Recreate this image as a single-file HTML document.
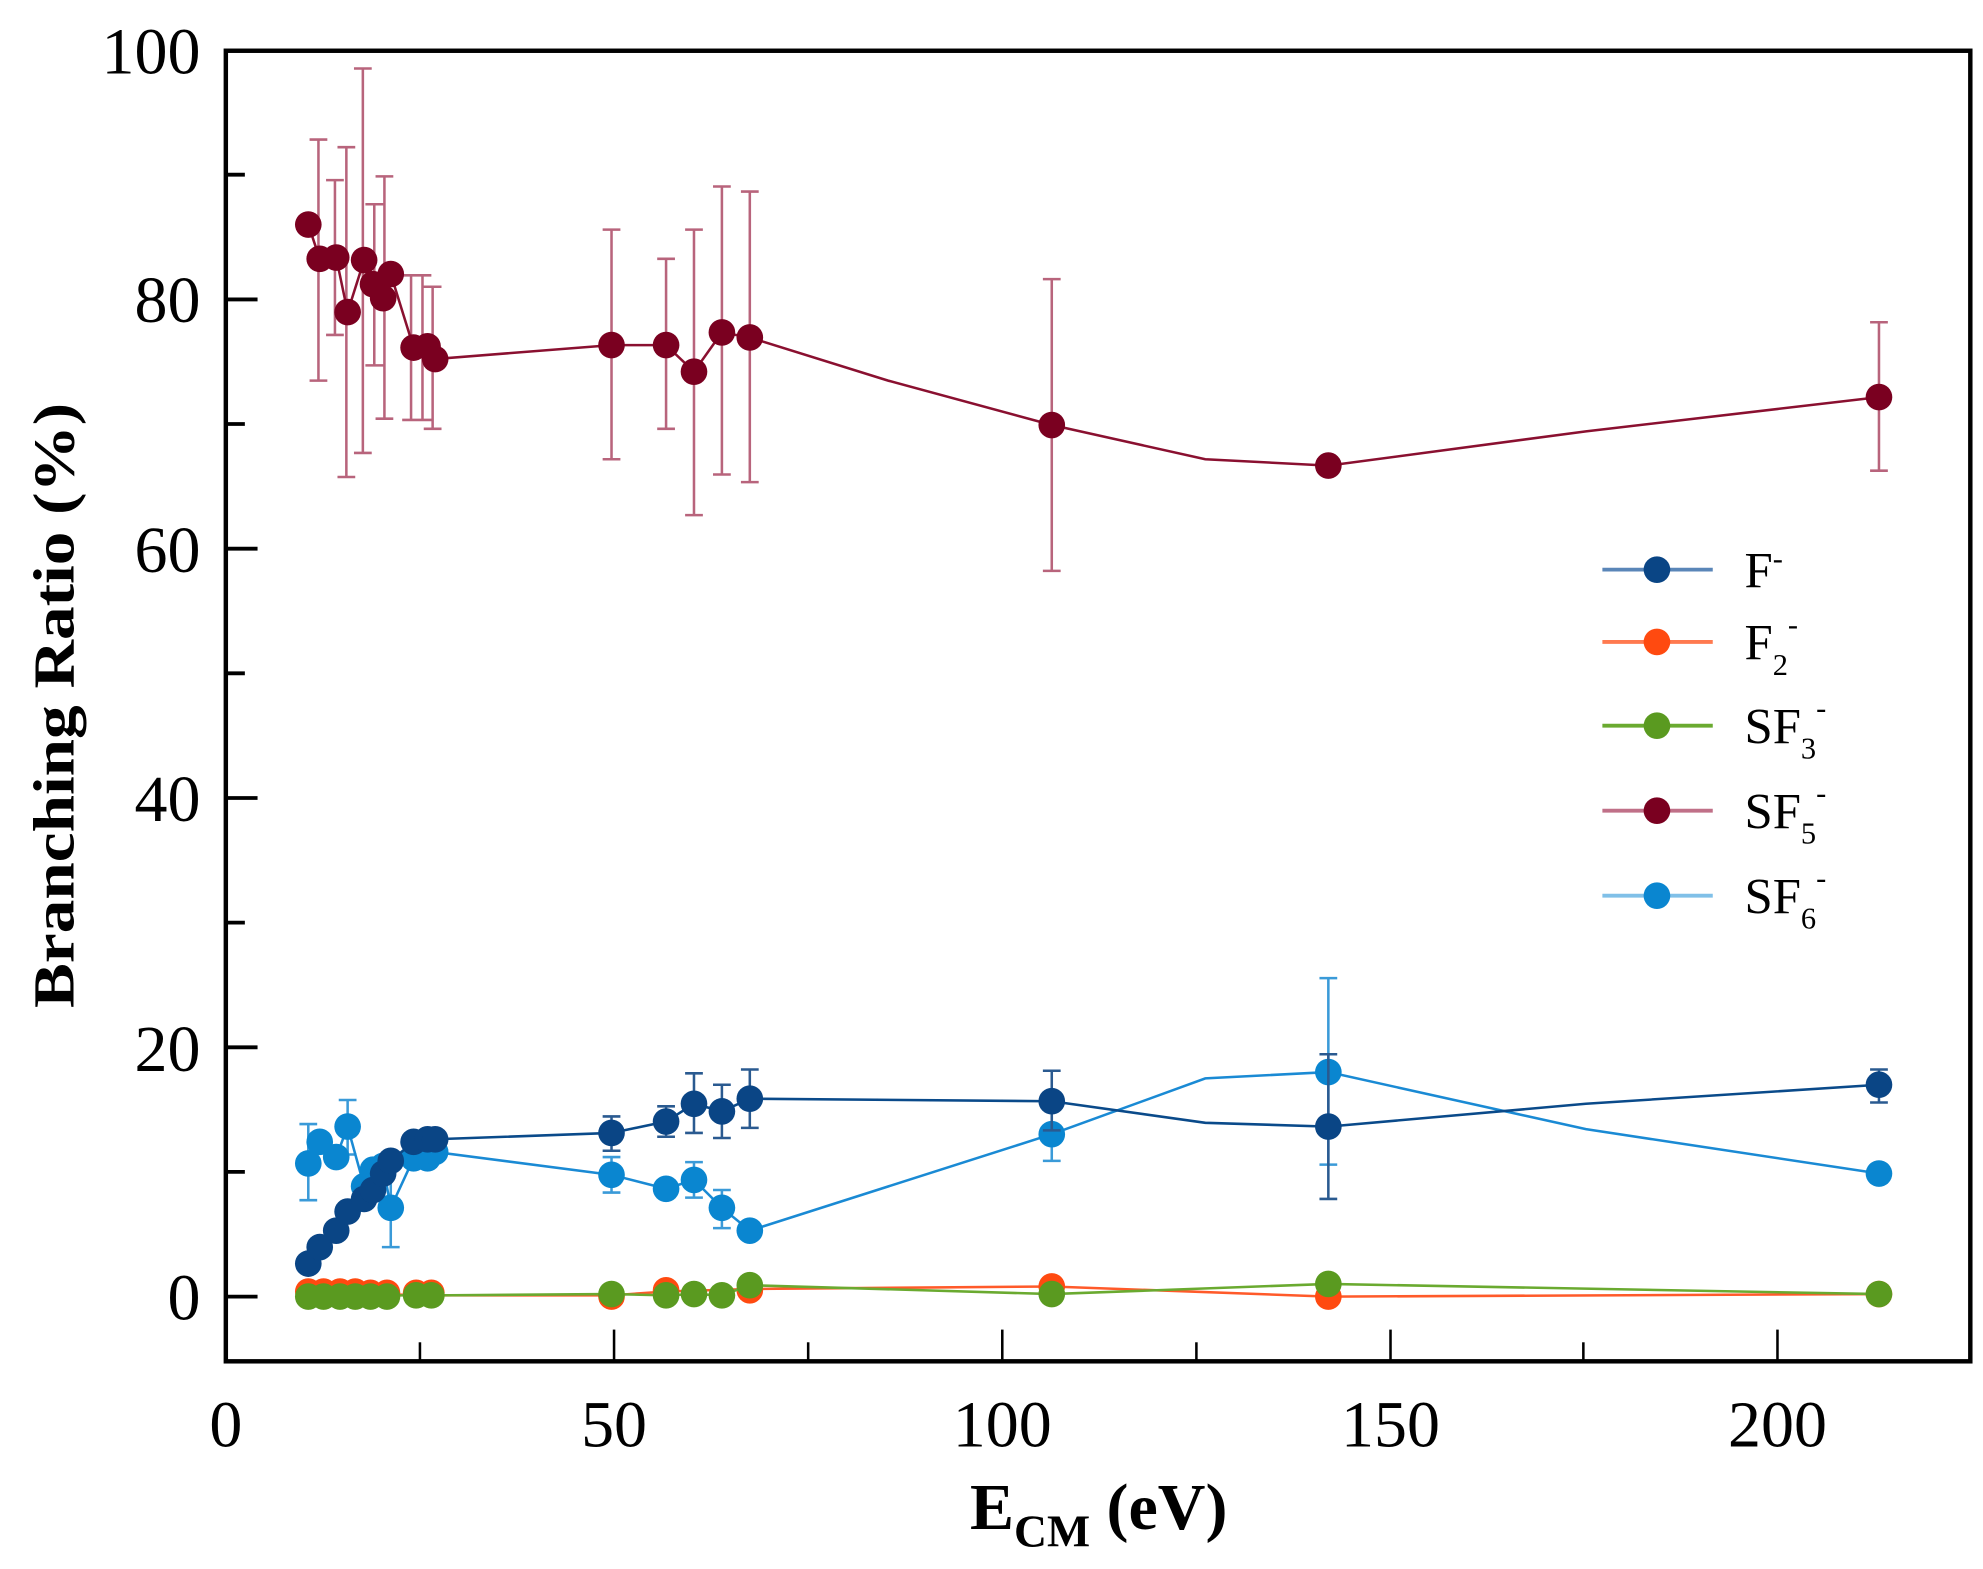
<!DOCTYPE html>
<html><head><meta charset="utf-8"><style>
html,body{margin:0;padding:0;background:#fff;}
svg{display:block;}
text{font-family:"Liberation Serif",serif;fill:#000;}
</style></head><body>
<svg width="1983" height="1569" viewBox="0 0 1563 1236.7" preserveAspectRatio="none" xmlns="http://www.w3.org/2000/svg">
<rect x="178" y="40" width="1375" height="1033" fill="none" stroke="#000" stroke-width="3.5"/>
<g stroke="#000" stroke-width="3">
<line x1="178" y1="1022" x2="203" y2="1022"/><line x1="178" y1="825.5" x2="203" y2="825.5"/>
<line x1="178" y1="629" x2="203" y2="629"/><line x1="178" y1="432.5" x2="203" y2="432.5"/>
<line x1="178" y1="236" x2="203" y2="236"/>
<line x1="178" y1="923.7" x2="193" y2="923.7"/><line x1="178" y1="727.2" x2="193" y2="727.2"/>
<line x1="178" y1="530.7" x2="193" y2="530.7"/><line x1="178" y1="334.2" x2="193" y2="334.2"/>
<line x1="178" y1="137.7" x2="193" y2="137.7"/>
</g>
<g stroke="#000" stroke-width="2">
<line x1="484" y1="1073" x2="484" y2="1048"/><line x1="790" y1="1073" x2="790" y2="1048"/>
<line x1="1096" y1="1073" x2="1096" y2="1048"/><line x1="1401" y1="1073" x2="1401" y2="1048"/>
<line x1="331" y1="1073" x2="331" y2="1058"/><line x1="637" y1="1073" x2="637" y2="1058"/>
<line x1="943" y1="1073" x2="943" y2="1058"/><line x1="1248" y1="1073" x2="1248" y2="1058"/>
</g>
<g font-size="52" text-anchor="end">
<text x="158" y="1040">0</text><text x="158" y="844">20</text><text x="158" y="647">40</text>
<text x="158" y="451">60</text><text x="158" y="254">80</text><text x="158" y="58">100</text>
</g>
<g font-size="52" text-anchor="middle">
<text x="178" y="1140">0</text><text x="484" y="1140">50</text><text x="790" y="1140">100</text>
<text x="1096" y="1140">150</text><text x="1401" y="1140">200</text>
</g>
<text x="866" y="1205" font-size="52" font-weight="bold" text-anchor="middle">E<tspan font-size="36" dy="14">CM</tspan><tspan dy="-14"> (eV)</tspan></text>
<text transform="translate(58,556) rotate(-90)" font-size="46" font-weight="bold" text-anchor="middle" textLength="477" lengthAdjust="spacingAndGlyphs">Branching Ratio (%)</text>

<g stroke="#a03050" stroke-width="2" stroke-opacity="0.75" fill="none">
<path d="M251 110V300M244 110H258M244 300H258
M264 142V264M257 142H271M257 264H271
M273 116V376M266 116H280M266 376H280
M286 54V357M279 54H293M279 357H293
M295 161V288M288 161H302M288 288H302
M303 139V330M296 139H310M296 330H310
M324 217V331M317 217H331M317 331H331
M333 217V331M326 217H340M326 331H340
M341 226V338M334 226H348M334 338H348
M482 181V362M475 181H489M475 362H489
M525 204V338M518 204H532M518 338H532
M547 181V406M540 181H554M540 406H554
M569 147V374M562 147H576M562 374H576
M591 151V380M584 151H598M584 380H598
M829 220V450M822 220H836M822 450H836
M1481 254V371M1474 254H1488M1474 371H1488"/>
</g>
<polyline fill="none" stroke="#8a1030" stroke-width="2" points="243,177 252,204 265,203 274,246 287,205 294,224 302,235 308,216 326,274 337,273 343,283 482,272 525,272 547,293 569,262 591,266 700,300 829,335 950,362 1047,367 1250,340 1481,313"/>
<g fill="#7a0020">
<circle cx="243" cy="177" r="10.5"/><circle cx="252" cy="204" r="10.5"/><circle cx="265" cy="203" r="10.5"/><circle cx="274" cy="246" r="10.5"/><circle cx="287" cy="205" r="10.5"/><circle cx="294" cy="224" r="10.5"/><circle cx="302" cy="235" r="10.5"/><circle cx="308" cy="216" r="10.5"/><circle cx="326" cy="274" r="10.5"/><circle cx="337" cy="273" r="10.5"/><circle cx="343" cy="283" r="10.5"/><circle cx="482" cy="272" r="10.5"/><circle cx="525" cy="272" r="10.5"/><circle cx="547" cy="293" r="10.5"/><circle cx="569" cy="262" r="10.5"/><circle cx="591" cy="266" r="10.5"/><circle cx="829" cy="335" r="10.5"/><circle cx="1047" cy="367" r="10.5"/><circle cx="1481" cy="313" r="10.5"/>
</g>

<g stroke="#3a9ad8" stroke-width="2" fill="none">
<path d="M243 886V946M236 886H250M236 946H250
M274 867V910M267 867H281M267 910H281
M308 920V983M301 920H315M301 983H315
M482 912V940M475 912H489M475 940H489
M547 916V944M540 916H554M540 944H554
M569 938V968M562 938H576M562 968H576
M829 872V915M822 872H836M822 915H836
M1047 771V918M1040 771H1054M1040 918H1054
M1481 918V932M1474 918H1488M1474 932H1488"/>
</g>
<polyline fill="none" stroke="#1a8ad4" stroke-width="2" points="243,917 252,900 265,912 274,888 287,935 294,922 302,919 308,952 326,913 337,913 343,908 482,926 525,937 547,930 569,952 591,970 829,894 950,850 1047,845 1250,890 1481,925"/>
<g fill="#0a86d0">
<circle cx="243" cy="917" r="10.5"/><circle cx="252" cy="900" r="10.5"/><circle cx="265" cy="912" r="10.5"/><circle cx="274" cy="888" r="10.5"/><circle cx="287" cy="935" r="10.5"/><circle cx="294" cy="922" r="10.5"/><circle cx="302" cy="919" r="10.5"/><circle cx="308" cy="952" r="10.5"/><circle cx="326" cy="913" r="10.5"/><circle cx="337" cy="913" r="10.5"/><circle cx="343" cy="908" r="10.5"/><circle cx="482" cy="926" r="10.5"/><circle cx="525" cy="937" r="10.5"/><circle cx="547" cy="930" r="10.5"/><circle cx="569" cy="952" r="10.5"/><circle cx="591" cy="970" r="10.5"/><circle cx="829" cy="894" r="10.5"/><circle cx="1047" cy="845" r="10.5"/><circle cx="1481" cy="925" r="10.5"/>
</g>

<g stroke="#2a5a90" stroke-width="2" fill="none">
<path d="M482 880V907M475 880H489M475 907H489
M525 872V896M518 872H532M518 896H532
M547 846V893M540 846H554M540 893H554
M569 855V897M562 855H576M562 897H576
M591 843V889M584 843H598M584 889H598
M829 844V891M822 844H836M822 891H836
M1047 831V945M1040 831H1054M1040 945H1054
M1481 843V869M1474 843H1488M1474 869H1488"/>
</g>
<polyline fill="none" stroke="#0a4a8a" stroke-width="2" points="243,996 252,983 265,970 274,955 287,945 294,938 302,925 308,915 326,900 337,898 343,898 482,893 525,884 547,870 569,876 591,866 829,868 950,885 1047,888 1250,870 1481,855"/>
<g fill="#0a4585">
<circle cx="243" cy="996" r="10.5"/><circle cx="252" cy="983" r="10.5"/><circle cx="265" cy="970" r="10.5"/><circle cx="274" cy="955" r="10.5"/><circle cx="287" cy="945" r="10.5"/><circle cx="294" cy="938" r="10.5"/><circle cx="302" cy="925" r="10.5"/><circle cx="308" cy="915" r="10.5"/><circle cx="326" cy="900" r="10.5"/><circle cx="337" cy="898" r="10.5"/><circle cx="343" cy="898" r="10.5"/><circle cx="482" cy="893" r="10.5"/><circle cx="525" cy="884" r="10.5"/><circle cx="547" cy="870" r="10.5"/><circle cx="569" cy="876" r="10.5"/><circle cx="591" cy="866" r="10.5"/><circle cx="829" cy="868" r="10.5"/><circle cx="1047" cy="888" r="10.5"/><circle cx="1481" cy="855" r="10.5"/>
</g>

<polyline fill="none" stroke="#ff5a2a" stroke-width="2" points="243,1019 343,1021 482,1021 525,1018 591,1016 829,1014 1047,1022 1481,1020"/>
<g fill="#ff4a10">
<circle cx="243" cy="1018" r="10.5"/><circle cx="255" cy="1018" r="10.5"/><circle cx="268" cy="1018" r="10.5"/><circle cx="280" cy="1018" r="10.5"/><circle cx="292" cy="1019" r="10.5"/><circle cx="305" cy="1019" r="10.5"/><circle cx="328" cy="1019" r="10.5"/><circle cx="340" cy="1019" r="10.5"/><circle cx="482" cy="1022" r="10.5"/><circle cx="525" cy="1017" r="10.5"/><circle cx="591" cy="1017" r="10.5"/><circle cx="829" cy="1014" r="10.5"/><circle cx="1047" cy="1022" r="10.5"/><circle cx="1481" cy="1020" r="10.5"/>
</g>
<polyline fill="none" stroke="#6aaa30" stroke-width="2" points="243,1021 343,1021 482,1020 525,1021 547,1020 569,1021 591,1013 829,1020 1047,1012 1481,1020"/>
<g fill="#5a9a20">
<circle cx="243" cy="1022" r="10.5"/><circle cx="255" cy="1022" r="10.5"/><circle cx="268" cy="1022" r="10.5"/><circle cx="280" cy="1022" r="10.5"/><circle cx="292" cy="1022" r="10.5"/><circle cx="305" cy="1022" r="10.5"/><circle cx="328" cy="1021" r="10.5"/><circle cx="340" cy="1021" r="10.5"/><circle cx="482" cy="1020" r="10.5"/><circle cx="525" cy="1021" r="10.5"/><circle cx="547" cy="1020" r="10.5"/><circle cx="569" cy="1021" r="10.5"/><circle cx="591" cy="1013" r="10.5"/><circle cx="829" cy="1020" r="10.5"/><circle cx="1047" cy="1012" r="10.5"/><circle cx="1481" cy="1020" r="10.5"/>
</g>

<g stroke-width="3">
<line x1="1263" y1="449" x2="1350" y2="449" stroke="#5a86b8"/><circle cx="1306" cy="449" r="10.5" fill="#0a4585"/>
<line x1="1263" y1="506" x2="1350" y2="506" stroke="#ff7a50"/><circle cx="1306" cy="506" r="10.5" fill="#ff4a10"/>
<line x1="1263" y1="572" x2="1350" y2="572" stroke="#6aaa30"/><circle cx="1306" cy="572" r="10.5" fill="#5a9a20"/>
<line x1="1263" y1="639" x2="1350" y2="639" stroke="#c07088"/><circle cx="1306" cy="639" r="10.5" fill="#7a0020"/>
<line x1="1263" y1="706" x2="1350" y2="706" stroke="#80c0e8"/><circle cx="1306" cy="706" r="10.5" fill="#0a86d0"/>
</g>
<g font-size="40">
<text x="1375" y="463">F<tspan font-size="24" dy="-15">-</tspan></text>
<text x="1375" y="520">F<tspan font-size="24" dy="12">2</tspan><tspan font-size="24" dy="-32">-</tspan></text>
<text x="1375" y="586">SF<tspan font-size="24" dy="12">3</tspan><tspan font-size="24" dy="-32">-</tspan></text>
<text x="1375" y="653">SF<tspan font-size="24" dy="12">5</tspan><tspan font-size="24" dy="-32">-</tspan></text>
<text x="1375" y="720">SF<tspan font-size="24" dy="12">6</tspan><tspan font-size="24" dy="-32">-</tspan></text>
</g>
</svg>
</body></html>
